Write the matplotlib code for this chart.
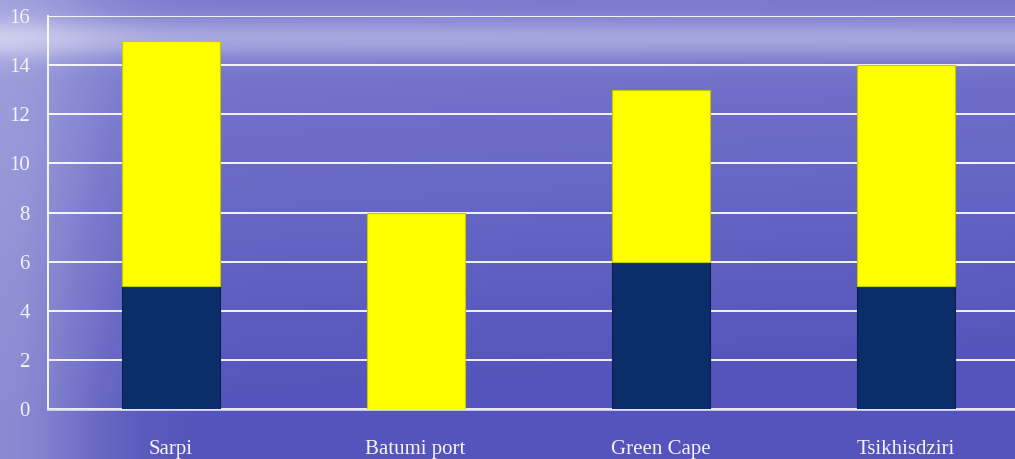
import matplotlib
matplotlib.use("Agg")
import matplotlib.pyplot as plt
import numpy as np

# data
sites = ["Sarpi", "Batumi port", "Green Cape", "Tsikhisdziri"]
bottom_vals = [5, 0, 6, 5]
top_vals = [10, 8, 7, 9]

plt.rcParams['font.family'] = ['Liberation Serif', 'DejaVu Serif']

W, H = 1015, 459
fig = plt.figure(figsize=(W / 100, H / 100), dpi=100)

# sea-like background gradient
yy, xx = np.mgrid[0:H, 0:W]
fy = yy / H
fx = xx / W
top_col = np.array([125, 125, 208]) / 255.0
bot_col = np.array([84, 84, 188]) / 255.0
light = np.array([205, 205, 238]) / 255.0
band = np.exp(-((yy - 38) / 20.0) ** 2) * 0.55
left_haze = np.exp(-(fx / 0.10) ** 2) * 0.45
t = np.clip(band + left_haze, 0, 1)
g = np.clip(fy * 1.1 + fx * 0.15, 0, 1)
img = np.empty((H, W, 3))
for c in range(3):
    col = top_col[c] * (1 - g) + bot_col[c] * g
    img[..., c] = col * (1 - t) + light[c] * t
bg = fig.add_axes([0, 0, 1, 1], zorder=0)
bg.imshow(img, aspect="auto", extent=[0, 1, 0, 1], interpolation="bilinear")
bg.axis("off")

ax = fig.add_axes([48 / W, 50 / H, 980 / W, 393 / H], zorder=1)
ax.patch.set_alpha(0)
x = np.arange(len(sites))
ax.bar(x, bottom_vals, width=0.4, color="#0b2d69", edgecolor="#08214f",
       linewidth=0.8, zorder=3)
ax.bar(x, top_vals, width=0.4, bottom=bottom_vals, color="#ffff00",
       edgecolor="#c8c800", linewidth=0.8, zorder=3)

ax.set_xlim(-0.5, 3.5)
ax.set_ylim(0, 16)
ax.set_yticks(range(0, 17, 2))
ax.yaxis.grid(True, color="white", linewidth=1.3, zorder=1)
ax.set_axisbelow(True)
ax.set_xticks(x)
ax.set_xticklabels(sites)
ax.tick_params(axis="both", length=0, colors="#f4f4fa", labelsize=15)
ax.tick_params(axis="x", pad=22)
ax.tick_params(axis="y", pad=13)
for s in ["top", "right"]:
    ax.spines[s].set_visible(False)
ax.spines["left"].set_color("white")
ax.spines["bottom"].set_color("#e8e8f0")
ax.spines["left"].set_linewidth(1.3)
ax.spines["bottom"].set_linewidth(1.8)

fig.savefig("out.png", dpi=100)
